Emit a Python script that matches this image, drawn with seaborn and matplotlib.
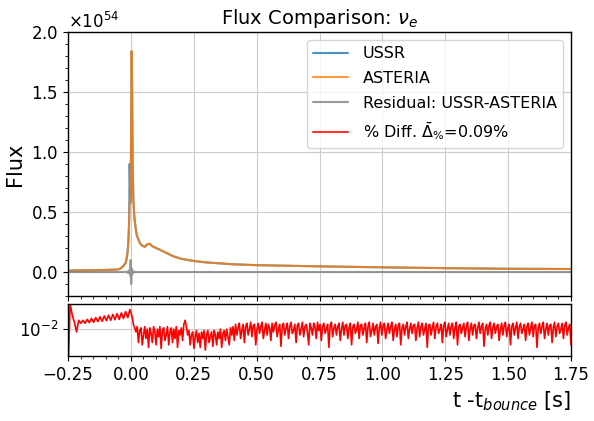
import numpy as np
import seaborn as sns
import matplotlib
matplotlib.use('Agg')
import matplotlib.pyplot as plt
from matplotlib.lines import Line2D
from matplotlib.ticker import MultipleLocator, AutoMinorLocator, NullLocator, ScalarFormatter

# flux, in units of 1e54
t_flux = [-0.25, -0.2, -0.15, -0.1, -0.07, -0.05, -0.04, -0.03, -0.02, -0.014,
          -0.01, -0.007, -0.005, -0.003, -0.001, 0.001, 0.003, 0.005, 0.007, 0.01,
          0.014, 0.018, 0.023, 0.03, 0.036, 0.045, 0.055, 0.065, 0.075, 0.085,
          0.1, 0.116, 0.14, 0.17, 0.2, 0.25, 0.3, 0.4, 0.5, 0.75,
          1.0, 1.25, 1.5, 1.75]
asteria = [0.012, 0.013, 0.015, 0.017, 0.019, 0.022, 0.03, 0.05, 0.08, 0.15,
           0.25, 0.42, 0.55, 0.6, 0.58, 1.2, 1.84, 1.5, 0.9, 0.6,
           0.45, 0.38, 0.31, 0.27, 0.24, 0.22, 0.21, 0.23, 0.235, 0.215,
           0.2, 0.185, 0.16, 0.13, 0.11, 0.092, 0.08, 0.065, 0.057, 0.047,
           0.039, 0.032, 0.027, 0.025]
ussr = [0.012, 0.013, 0.015, 0.017, 0.019, 0.022, 0.03, 0.05, 0.08, 0.15,
        0.25, 0.42, 0.9, 0.7, 0.58, 1.2, 1.84, 1.5, 0.9, 0.6,
        0.45, 0.38, 0.31, 0.27, 0.24, 0.22, 0.21, 0.23, 0.235, 0.215,
        0.2, 0.185, 0.16, 0.13, 0.11, 0.092, 0.08, 0.065, 0.057, 0.047,
        0.039, 0.032, 0.027, 0.025]
residual = [0, 0, 0, 0, 0, 0, 0, 0, 0.003, -0.006,
            0.008, -0.01, 0.02, -0.03, 0.1, -0.1, 0.03, -0.02, 0.01, -0.005,
            0.004, 0, 0, 0, 0, 0, 0, 0, 0, 0,
            0, 0, 0, 0, 0, 0, 0, 0, 0, 0,
            0, 0, 0, 0]

# percent difference, in units of 1e-3
diff_pre = [2.0, 26, 17, 13, 9, 14, 12.5, 14, 12.5, 14.5,
            12.8, 15, 13, 15.5, 13.3, 16, 13.5, 16.5, 13.8, 17,
            14, 17.5, 14.3, 18, 14.5, 18.5, 15, 19.5, 15.5, 21]
diff_post = [19, 16, 12, 10.5, 9,
             11, 6, 9.5, 10.5, 5.5, 8, 11, 7, 10, 5,
             10.5, 8.5, 6, 11, 9, 5.5, 10, 7.5, 11, 4.8,
             9.5, 10.5, 6.5, 8, 11, 5.5, 9, 10.5, 6, 10,
             7, 11, 5, 9.5, 8, 10.5, 6.5,
             12, 14, 11, 8,
             9.5, 5.5, 8, 9, 4.8, 7.5, 9.5, 6, 8.5, 5,
             9, 7, 9.5, 4.5, 8, 9.5, 6, 7.5, 9, 5.2,
             9.5, 8, 5.5, 9, 7, 10, 5, 8.5, 9.5, 6.5,
             10, 7.5, 5.5, 10.5, 8, 11, 6.5,
             12, 8, 10.5, 12.5, 7, 9.5, 12, 6, 11, 12.5,
             8, 10, 13, 7.5, 11.5, 12, 5.5, 10, 12.5, 8.5,
             11, 13, 7, 9.5, 12.5, 8, 12, 10.5, 6.5, 12.5,
             9, 11.5, 13, 7.5, 10, 12, 5.2, 11, 12.5, 8,
             10.5, 12.5, 7, 11, 13, 8.5, 9.5, 12, 6, 11.5,
             12.5, 8, 10, 13, 7.5, 11, 12, 9, 5.5, 12.5,
             10.5, 8, 12.5, 11, 7, 13, 9.5, 12, 6.5, 11,
             12.5, 8.5, 10, 12, 5, 11.5, 13, 7.5, 10.5, 12,
             8, 11, 12.5, 6.5, 10, 13, 8, 11.5, 12, 7,
             10.5, 12.5, 5.5, 11, 12, 8.5, 10, 13, 7, 11.5,
             12, 8, 10.5, 12.5, 6, 11, 13, 7.5, 9.5, 12.5,
             8, 11, 12, 5.8, 10.5, 13, 8, 11.5, 12.5, 7,
             10, 12.5, 8.5, 11, 13, 6.5, 10, 12, 7.5, 11.5,
             12.5, 5.5, 10.5, 12, 8, 11, 13, 7, 10, 12.5,
             8.5, 11.5, 12, 6.5, 10.5, 13, 7.5, 11, 12.5, 8,
             10, 12.5, 5, 11.5, 12, 8, 10.5, 13, 7, 11,
             12.5, 8.5, 10, 12, 6, 11.5, 13, 7.5, 10, 12.5,
             8, 11, 12.5, 7, 10.5, 13, 5.5, 11, 12, 8.5,
             10.5, 12.5, 7.5, 11, 13, 6.5, 10, 12.5, 8, 11.5,
             12, 7, 10.5, 13, 8.5, 11, 12.5, 5.2, 10, 12,
             8, 11.5, 13, 7, 10.5, 12.5, 8.5, 11, 12, 6.5,
             10, 12.5, 8, 11.5, 13, 7.5, 10.5, 12, 5.5, 11,
             12.5, 8, 10.5, 13, 7, 11, 12.5, 8.5, 10, 12,
             6.5, 11, 12.5, 8, 10.5, 13, 7.5, 11.5, 12, 5,
             10.5, 12.5, 8.5, 11, 13, 7, 10, 12.5, 8, 11.5,
             12, 6, 10.5, 13, 7.5, 11, 12.5, 8.5, 10, 12.5,
             7, 11.5, 13, 8, 10.5, 12, 5.5]

t_pre = np.linspace(-0.25, -0.004, len(diff_pre))
t_post = np.linspace(0.0, 1.75, len(diff_post))
t_diff = np.concatenate([t_pre, t_post])
diff = np.array(diff_pre + diff_post) * 1e-3

sns.set_theme(style='ticks')
plt.rcParams['font.family'] = ['DejaVu Sans']
plt.rcParams['mathtext.fontset'] = 'dejavusans'
plt.rcParams.update({
    'xtick.major.size': 3.5, 'ytick.major.size': 3.5,
    'xtick.minor.size': 2.0, 'ytick.minor.size': 2.0,
    'xtick.major.width': 0.8, 'ytick.major.width': 0.8,
    'xtick.minor.width': 0.6, 'ytick.minor.width': 0.6,
    'axes.edgecolor': 'black', 'xtick.color': 'black', 'ytick.color': 'black',
    'text.color': 'black', 'axes.labelcolor': 'black',
})

fig = plt.figure(figsize=(5.94, 4.21), dpi=100)
ax1 = fig.add_axes([0.1145, 0.2969, 0.8468, 0.6271])
ax2 = fig.add_axes([0.1145, 0.1544, 0.8468, 0.1235])

tf = np.array(t_flux)
sns.lineplot(x=tf, y=np.array(ussr) * 1e54, ax=ax1, color='#1f77b4', lw=1.5, alpha=0.8, sort=False)
sns.lineplot(x=tf, y=np.array(asteria) * 1e54, ax=ax1, color='#ff7f0e', lw=1.5, alpha=0.8, sort=False)
sns.lineplot(x=tf, y=np.array(residual) * 1e54, ax=ax1, color='grey', lw=1.5, alpha=0.8, sort=False)
sns.lineplot(x=t_diff, y=diff, ax=ax2, color='red', lw=1.2, sort=False)

for ax in (ax1, ax2):
    ax.set_xlim(-0.25, 1.75)
    ax.xaxis.set_major_locator(MultipleLocator(0.25))
    ax.xaxis.set_minor_locator(AutoMinorLocator(5))
    ax.grid(True, color='#cccccc', lw=0.8)
    ax.tick_params(labelsize=12)
    for s in ax.spines.values():
        s.set_linewidth(1.0)

ax1.set_ylim(-0.2e54, 2.0e54)
ax1.yaxis.set_major_locator(MultipleLocator(0.5e54))
ax1.yaxis.set_minor_locator(AutoMinorLocator(5))
fmt = ScalarFormatter(useMathText=True)
ax1.yaxis.set_major_formatter(fmt)
ax1.yaxis.get_offset_text().set_fontsize(12)
ax1.tick_params(labelbottom=False)
ax1.set_title(r'Flux Comparison: $\nu_e$', fontsize=14)
ax1.set_ylabel('Flux', fontsize=15)

ax2.set_yscale('log')
ax2.set_ylim(0.0036, 0.026)
ax2.set_yticks([0.01])
ax2.yaxis.set_minor_locator(NullLocator())
ax2.set_xlabel(r't -t$_{bounce}$ [s]', fontsize=15, loc='right')

handles = [Line2D([], [], color='#1f77b4', lw=1.5, alpha=0.8),
           Line2D([], [], color='#ff7f0e', lw=1.5, alpha=0.8),
           Line2D([], [], color='grey', lw=1.5, alpha=0.8),
           Line2D([], [], color='red', lw=1.5, alpha=0.8)]
labels = ['USSR', 'ASTERIA', 'Residual: USSR-ASTERIA', r'% Diff. $\bar{\Delta}_{\%}$=0.09%']
ax1.legend(handles, labels, loc='upper right', fontsize=11.5, labelspacing=0.6,
           handlelength=2.2, handletextpad=0.9, borderaxespad=0.5)

fig.savefig('out.png', dpi=100)
